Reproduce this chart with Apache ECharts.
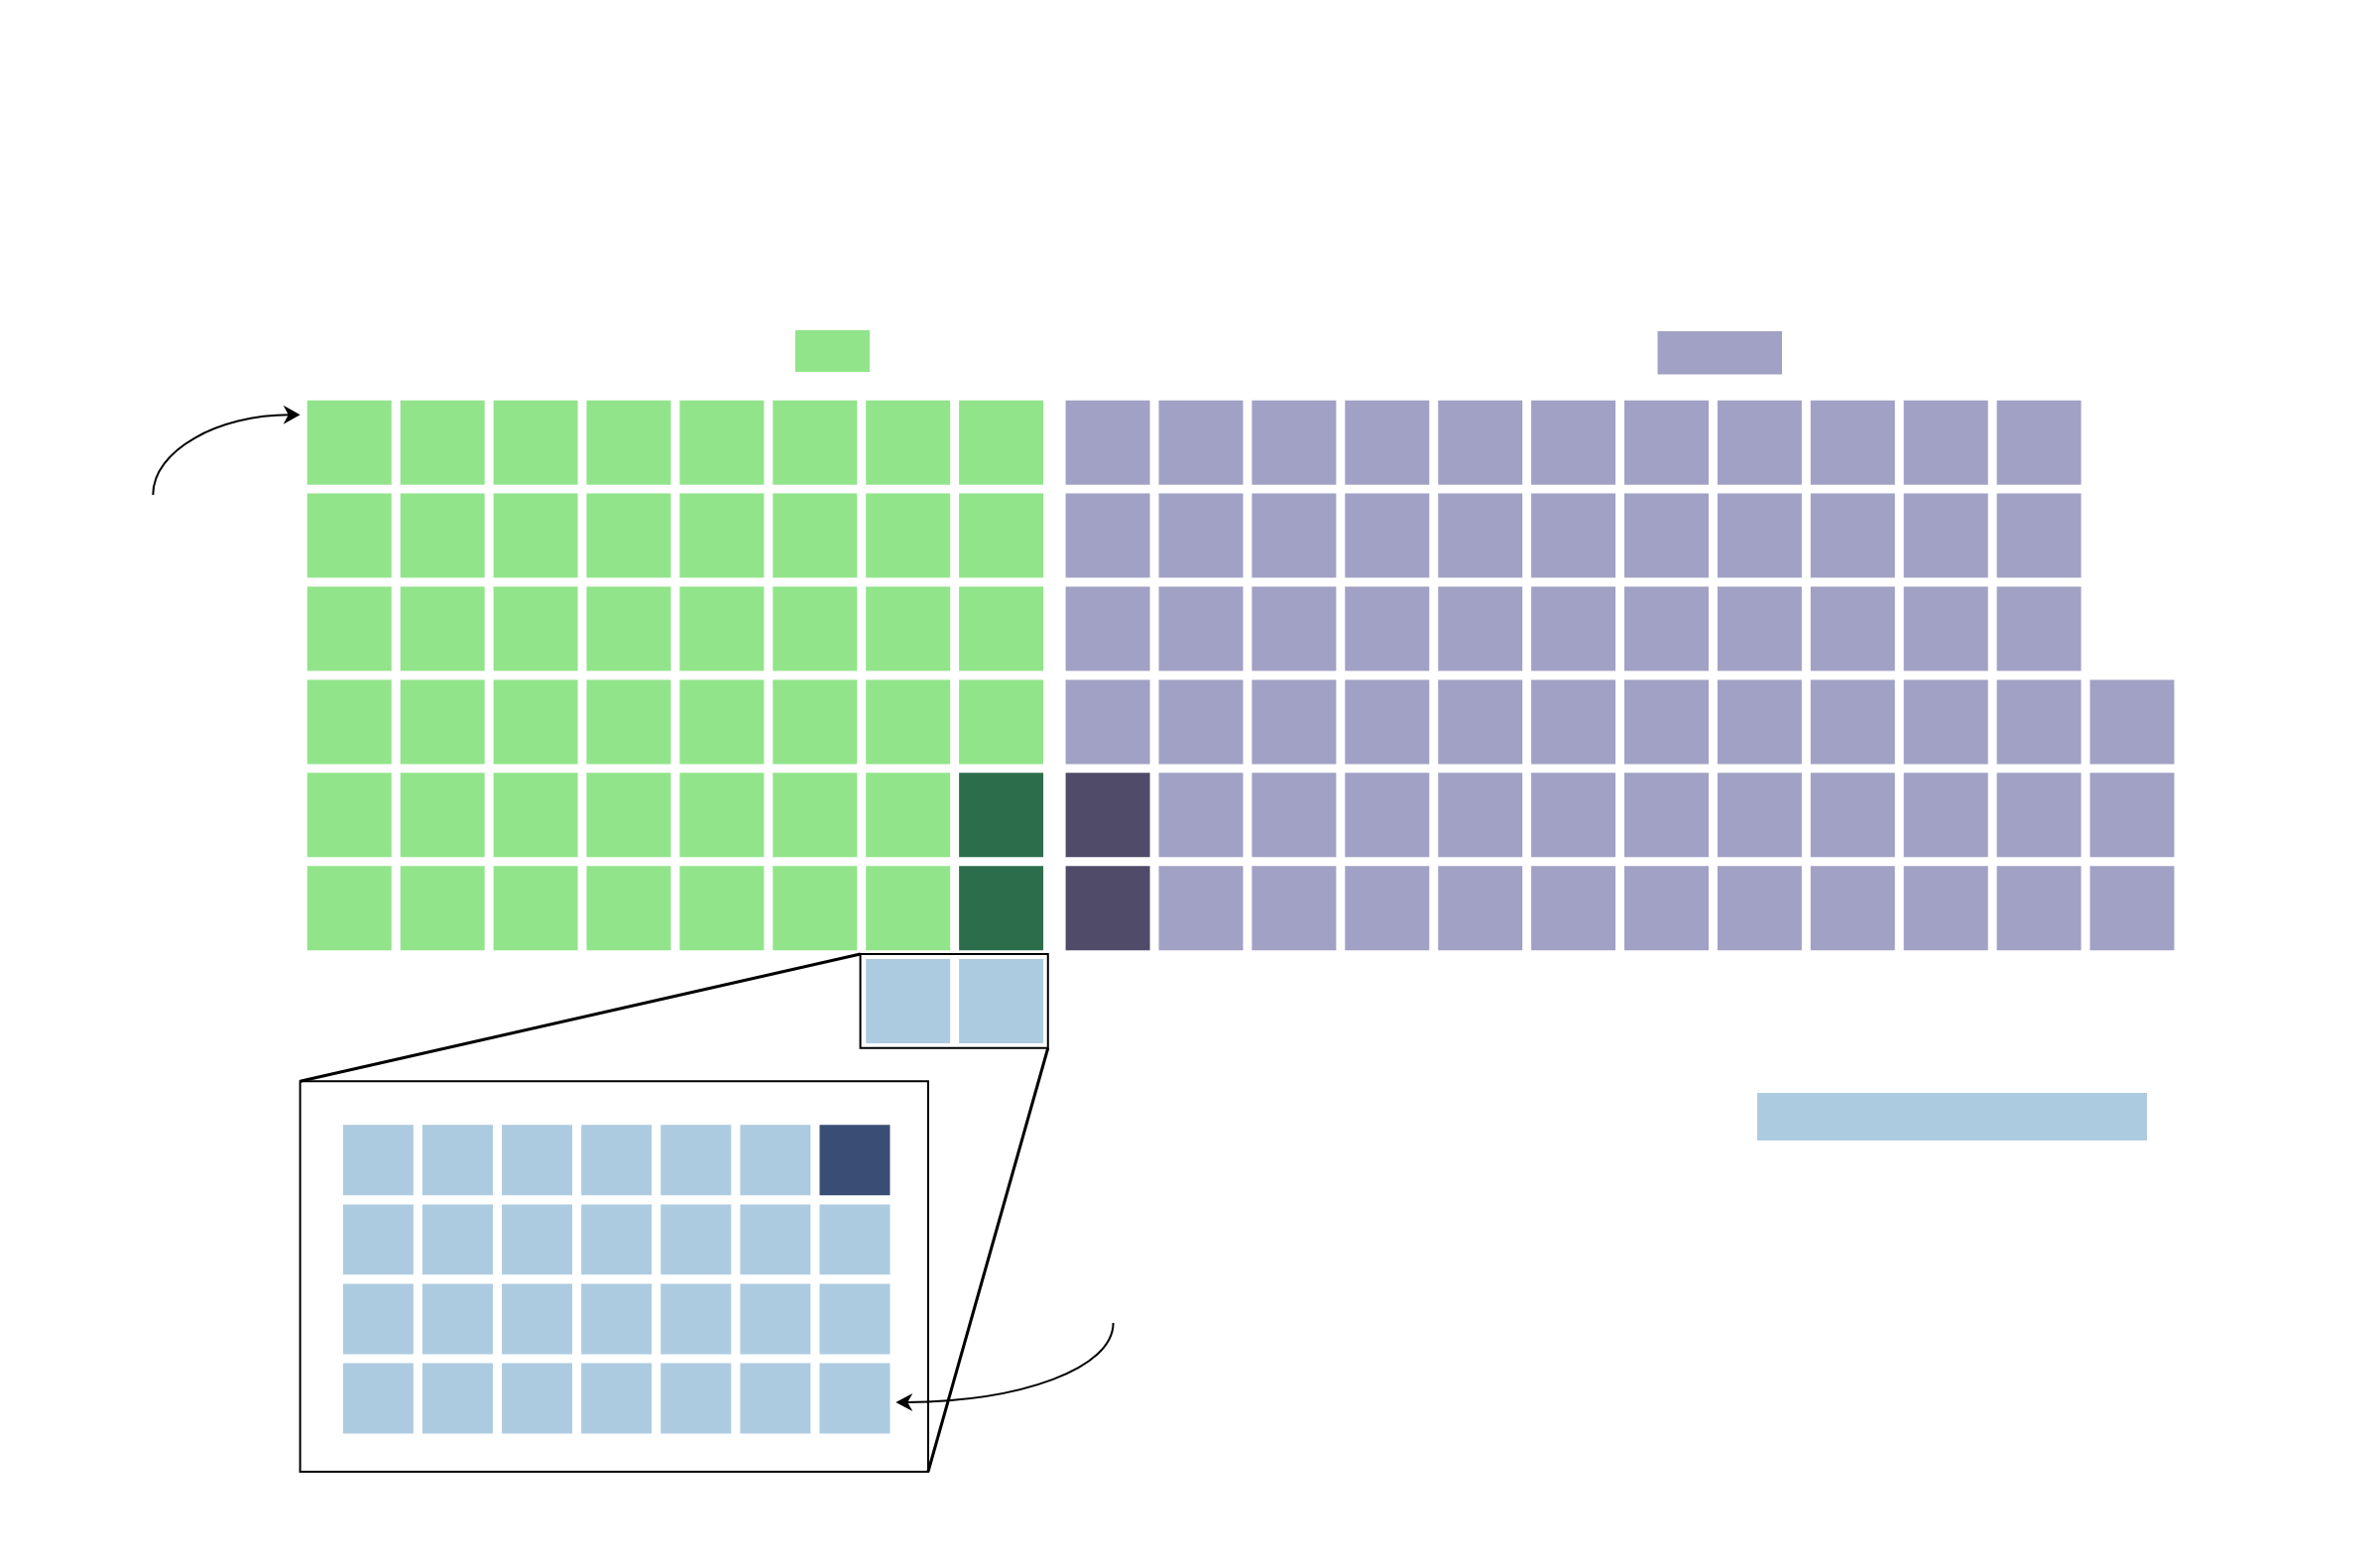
<!DOCTYPE html>
<html><head><meta charset="utf-8">
<script src="https://cdn.jsdelivr.net/npm/echarts@6/dist/echarts.min.js"></script>
<style>html,body{margin:0;padding:0;background:#fff}#c{width:2400px;height:1572px}</style>
</head><body><div id="c"></div>
<script>
// ---- data ----
const groupTotals = [48, 69];        // cells per main group
const groupHighlighted = [2, 2];     // dark cells per main group
const groupColumns = [8, 12];
const rowsPerColumn = 6;
const spilloverCells = 2;            // light-blue cells under group 1
const insetTotal = 28;               // cells in the zoomed inset
const insetHighlighted = 1;
const insetColumns = 7;

// ---- style ----
const palette = ['#91e48a', '#2c6e4b', '#a1a1c5', '#4f4b68', '#adcbe0', '#3a4d75'];
const CELL = 0.905, GROUP_GAP = 0.145, INSET_CELL = 0.886;

const mainCells = [];
for (let i = 0; i < groupTotals[0]; i++) {
  const col = groupColumns[0] - 1 - Math.floor(i / rowsPerColumn);
  const row = rowsPerColumn - 1 - (i % rowsPerColumn);
  mainCells.push([col, row, i < groupHighlighted[0] ? 1 : 0]);
}
const off = groupColumns[0] + GROUP_GAP;
for (let i = 0; i < groupTotals[1]; i++) {
  const col = off + Math.floor(i / rowsPerColumn);
  const row = rowsPerColumn - 1 - (i % rowsPerColumn);
  mainCells.push([col, row, i < groupHighlighted[1] ? 3 : 2]);
}
for (let j = 0; j < spilloverCells; j++) {
  mainCells.push([groupColumns[0] - 1 - j, rowsPerColumn, 4]);
}
const insetCells = [];
for (let i = 0; i < insetTotal; i++) {
  const col = insetColumns - 1 - (i % insetColumns);
  const row = Math.floor(i / insetColumns);
  insetCells.push([col, row, i < insetHighlighted ? 5 : 4]);
}

function renderCell(size) {
  return function (params, api) {
    const p = api.coord([api.value(0), api.value(1)]);
    const s = api.size([size, size]);
    return { type: 'rect', shape: { x: p[0], y: p[1], width: s[0], height: s[1] },
      style: { fill: palette[api.value(2)] } };
  };
}

const chart = echarts.init(document.getElementById('c'));
const hiddenAxis = { type: 'value', show: false, splitLine: { show: false } };
chart.setOption({
  animation: false,
  backgroundColor: '#fff',
  grid: [
    { left: 309.8, top: 403.7, width: 20 * 93.9, height: 8 * 93.9, outerBoundsMode: 'none', containLabel: false },
    { left: 345.9, top: 1134.3, width: 8 * 80.1, height: 5 * 80.1, outerBoundsMode: 'none', containLabel: false }
  ],
  xAxis: [
    Object.assign({ gridIndex: 0, min: 0, max: 20 }, hiddenAxis),
    Object.assign({ gridIndex: 1, min: 0, max: 8 }, hiddenAxis)
  ],
  yAxis: [
    Object.assign({ gridIndex: 0, min: 0, max: 8, inverse: true }, hiddenAxis),
    Object.assign({ gridIndex: 1, min: 0, max: 5, inverse: true }, hiddenAxis)
  ],
  series: [
    { type: 'custom', xAxisIndex: 0, yAxisIndex: 0, data: mainCells, encode: { x: 0, y: 1 }, renderItem: renderCell(CELL) },
    { type: 'custom', xAxisIndex: 1, yAxisIndex: 1, data: insetCells, encode: { x: 0, y: 1 }, renderItem: renderCell(INSET_CELL) }
  ]
});

// ---- annotations ----
const P0 = (x, y) => chart.convertToPixel({ gridIndex: 0 }, [x, y]);
const P1 = (x, y) => chart.convertToPixel({ gridIndex: 1 }, [x, y]);

const sbTL = P0(groupColumns[0] - spilloverCells - 0.06, rowsPerColumn - 0.055);
const sbBR = P0(groupColumns[0] - 1 + CELL + 0.05, rowsPerColumn + CELL + 0.05);
const ibTL = P1(-0.54, -0.55);
const ibBR = P1(insetColumns - 1 + INSET_CELL + 0.48, insetTotal / insetColumns - 1 + INSET_CELL + 0.48);

function arrowHead(tip, dir, len, hw) {
  const [dx, dy] = dir; const nx = -dy, ny = dx;
  const bx = tip[0] - dx * len, by = tip[1] - dy * len;
  const nxp = tip[0] - dx * len * 0.7, nyp = tip[1] - dy * len * 0.7;
  return { type: 'polygon', z: 20, shape: { points: [tip, [bx + nx * hw, by + ny * hw], [nxp, nyp], [bx - nx * hw, by - ny * hw]] }, style: { fill: '#000' } };
}

const graphics = [
  // header boxes
  { type: 'rect', shape: { x: 802, y: 333, width: 75, height: 42 }, style: { fill: palette[0] } },
  { type: 'rect', shape: { x: 1671.5, y: 334, width: 125.5, height: 43.5 }, style: { fill: palette[2] } },
  // bottom-right box
  { type: 'rect', shape: { x: 1772, y: 1102, width: 393, height: 48 }, style: { fill: palette[4] } },
  // small box around spillover cells
  { type: 'rect', z: 10, shape: { x: sbTL[0], y: sbTL[1], width: sbBR[0] - sbTL[0], height: sbBR[1] - sbTL[1] }, style: { fill: 'none', stroke: '#000', lineWidth: 2 } },
  // inset box
  { type: 'rect', z: 10, shape: { x: ibTL[0], y: ibTL[1], width: ibBR[0] - ibTL[0], height: ibBR[1] - ibTL[1] }, style: { fill: 'none', stroke: '#000', lineWidth: 2 } },
  // connectors
  { type: 'line', z: 10, shape: { x1: sbTL[0], y1: sbTL[1], x2: ibTL[0], y2: ibTL[1] }, style: { stroke: '#000', lineWidth: 3 } },
  { type: 'line', z: 10, shape: { x1: sbBR[0], y1: sbBR[1], x2: ibBR[0], y2: ibBR[1] }, style: { stroke: '#000', lineWidth: 3 } },
  // top-left arrow
  { type: 'bezierCurve', z: 20, shape: { x1: 154.3, y1: 499, cpx1: 154.3, cpy1: 454, cpx2: 220, cpy2: 418.3, x2: 292, y2: 418.3 }, style: { fill: 'none', stroke: '#000', lineWidth: 2 } },
  arrowHead([302.7, 418.3], [1, 0], 17, 9.5),
  // bottom arrow
  { type: 'bezierCurve', z: 20, shape: { x1: 1122.6, y1: 1334, cpx1: 1122.6, cpy1: 1380, cpx2: 1030, cpy2: 1413, x2: 914, y2: 1414 }, style: { fill: 'none', stroke: '#000', lineWidth: 2 } },
  arrowHead([903.3, 1414], [-1, 0], 17, 9)
];
chart.setOption({ graphic: graphics });
</script>
</body></html>
